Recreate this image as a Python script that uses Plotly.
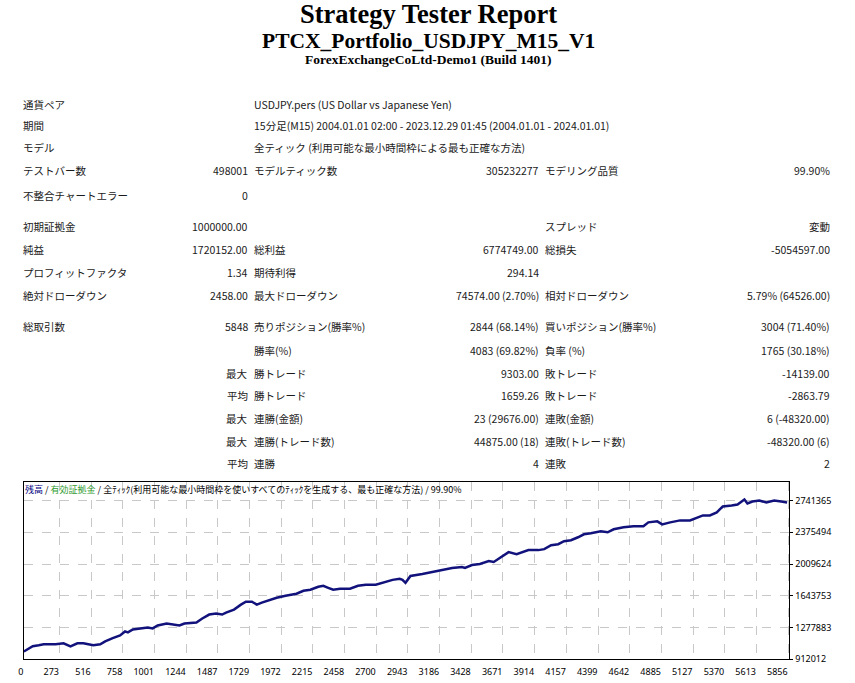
import plotly.graph_objects as go

W, H = 855, 683

# header
title_lines = [
    "Strategy Tester Report",
    "PTCX_Portfolio_USDJPY_M15_V1",
    "ForexExchangeCoLtd-Demo1 (Build 1401)",
]

# first block (label + long value)
info_labels = ["通貨ペア", "期間", "モデル"]
info_values = [
    "USDJPY.pers (US Dollar vs Japanese Yen)",
    "15分足(M15) 2004.01.01 02:00 - 2023.12.29 01:45 (2004.01.01 - 2024.01.01)",
    "全ティック (利用可能な最小時間枠による最も正確な方法)",
]

# stats table, 3 label/value column pairs
label1 = ["テストバー数", "不整合チャートエラー", "初期証拠金", "純益", "プロフィットファクタ",
          "絶対ドローダウン", "総取引数", "", "", "", "", "", ""]
value1 = ["498001", "0", "1000000.00", "1720152.00", "1.34", "2458.00", "5848",
          "", "最大", "平均", "最大", "最大", "平均"]
label2 = ["モデルティック数", "", "", "総利益", "期待利得", "最大ドローダウン",
          "売りポジション(勝率%)", "勝率(%)", "勝トレード", "勝トレード", "連勝(金額)",
          "連勝(トレード数)", "連勝"]
value2 = ["305232277", "", "", "6774749.00", "294.14", "74574.00 (2.70%)",
          "2844 (68.14%)", "4083 (69.82%)", "9303.00", "1659.26", "23 (29676.00)",
          "44875.00 (18)", "4"]
label3 = ["モデリング品質", "", "スプレッド", "総損失", "", "相対ドローダウン",
          "買いポジション(勝率%)", "負率 (%)", "敗トレード", "敗トレード", "連敗(金額)",
          "連敗(トレード数)", "連敗"]
value3 = ["99.90%", "", "変動", "-5054597.00", "", "5.79% (64526.00)",
          "3004 (71.40%)", "1765 (30.18%)", "-14139.00", "-2863.79", "6 (-48320.00)",
          "-48320.00 (6)", "2"]

# balance curve (trade number, balance)
trade_no = [0, 68, 114, 152, 190, 243, 304, 357, 410, 456, 494, 532, 585, 623, 676,
            737, 775, 797, 835, 904, 949, 987, 1025, 1094, 1139, 1192, 1230, 1322,
            1367, 1420, 1473, 1519, 1549, 1610, 1663, 1701, 1747, 1785, 1823, 1891,
            1937, 2005, 2066, 2089, 2142, 2195, 2256, 2294, 2332, 2370, 2423, 2499,
            2560, 2620, 2696, 2772, 2825, 2879, 2901, 2924, 2962, 3053, 3129, 3205,
            3281, 3357, 3380, 3433, 3494, 3562, 3600, 3646, 3714, 3775, 3828, 3866,
            3942, 3987, 4040, 4094, 4139, 4192, 4246, 4291, 4344, 4420, 4473, 4519,
            4595, 4671, 4747, 4785, 4853, 4891, 4952, 5028, 5104, 5157, 5203, 5256,
            5309, 5332, 5355, 5423, 5468, 5521, 5544, 5582, 5635, 5689, 5749, 5803,
            5848]
balance = [1000000, 1060600, 1072100, 1083500, 1083500, 1083500, 1094900, 1060600,
           1094900, 1094900, 1083500, 1072100, 1083500, 1117800, 1152100, 1186400,
           1232100, 1220700, 1255000, 1266400, 1277900, 1266400, 1300700, 1323600,
           1312200, 1300700, 1323600, 1335000, 1380800, 1426500, 1437900, 1426500,
           1449400, 1483700, 1540800, 1575100, 1575100, 1540800, 1563700, 1598000,
           1620900, 1643800, 1655200, 1666600, 1700900, 1712400, 1746700, 1758100,
           1735200, 1712400, 1723800, 1723800, 1758100, 1769500, 1769500, 1803800,
           1826700, 1838100, 1826700, 1792400, 1872400, 1895300, 1918200, 1941000,
           1963900, 1975300, 1963900, 1998200, 2009600, 2043900, 2032500, 2078200,
           2146800, 2124000, 2146800, 2169700, 2169700, 2181100, 2226900, 2238300,
           2272600, 2284000, 2318300, 2352600, 2364100, 2386900, 2375500, 2409800,
           2432700, 2444100, 2444100, 2489800, 2501300, 2467000, 2489800, 2512700,
           2512700, 2546900, 2569900, 2569900, 2604200, 2638500, 2672800, 2684200,
           2695600, 2752800, 2707100, 2729900, 2741400, 2718500, 2741400, 2729900,
           2718500]

x_ticks = [0, 273, 516, 758, 1001, 1244, 1487, 1729, 1972, 2215, 2458, 2700, 2943,
           3186, 3428, 3671, 3914, 4157, 4399, 4642, 4885, 5127, 5370, 5613, 5856]
y_ticks = [912012, 1277883, 1643753, 2009624, 2375494, 2741365]

chart_caption = ("<span style='color:#000080'>残高</span> / "
                 "<span style='color:#2e9a2e'>有効証拠金</span> / "
                 "全ﾃｨｯｸ(利用可能な最小時間枠を使いすべてのﾃｨｯｸを生成する、最も正確な方法) / 99.90%")

# pixel positions of the text rows
info_y = [105, 127, 149]
row_y = [172, 197, 229, 252, 275, 298, 329, 354, 377, 399, 422, 445, 468]

TXT = "#1a1a1a"
FONT = "Noto Sans CJK JP"


def px(x):
    return x / W


def py(y):
    return 1 - y / H


fig = go.Figure()
fig.add_trace(go.Scatter(
    x=trade_no, y=balance, mode="lines",
    line=dict(color="#12127c", width=2.5),
    hoverinfo="skip", showlegend=False,
))

ann = []
title_sizes = [26.5, 21.5, 13.5]
title_y = [14, 41, 60]
for t, s, y in zip(title_lines, title_sizes, title_y):
    ann.append(dict(x=px(W / 2 - 2), y=py(y), text="<b>%s</b>" % t, showarrow=False,
                    xanchor="center", yanchor="middle",
                    font=dict(family="Liberation Serif", size=s, color="#000")))

for lab, val, y in zip(info_labels, info_values, info_y):
    ann.append(dict(x=px(16), y=py(y), text=lab, xanchor="left", align="left"))
    ann.append(dict(x=px(249), y=py(y), text=val, xanchor="left", align="left"))

columns = [(label1, 16, "left"), (value1, 245, "right"),
           (label2, 249, "left"), (value2, 538, "right"),
           (label3, 542, "left"), (value3, 831, "right")]
for texts, x, anchor in columns:
    for t, y in zip(texts, row_y):
        if t:
            ann.append(dict(x=px(x), y=py(y), text=t, xanchor=anchor, align=anchor))

for a in ann:
    a.setdefault("showarrow", False)
    a.setdefault("yanchor", "middle")
    a.setdefault("font", dict(family=FONT, size=10.5, color=TXT))
    a["xref"] = "paper"
    a["yref"] = "paper"
    a["borderpad"] = 0

ann.append(dict(x=px(18), y=py(494), xref="paper", yref="paper", text=chart_caption,
                showarrow=False, xanchor="left", yanchor="middle", borderpad=0,
                font=dict(family=FONT, size=9, color="#000")))

fig.update_layout(
    width=W, height=H,
    margin=dict(l=0, r=0, t=0, b=0),
    paper_bgcolor="white", plot_bgcolor="white",
    hovermode=False,
    annotations=ann,
    xaxis=dict(
        domain=[px(18), px(789)], range=[0, 5866],
        tickvals=x_ticks, ticks="", ticklabelposition="outside left",
        ticklabelstandoff=4,
        showgrid=True, gridcolor="#c8c8c8", griddash="dash", gridwidth=1,
        showline=True, linecolor="#000", linewidth=1, mirror=True, zeroline=False,
        tickfont=dict(family="Noto Sans", size=9, color="#000"),
    ),
    yaxis=dict(
        domain=[py(665), py(486)], range=[912012, 2958600],
        side="right", tickvals=y_ticks, tickformat="d",
        ticks="outside", ticklen=3, tickcolor="#000",
        showgrid=True, gridcolor="#c8c8c8", griddash="dash", gridwidth=1,
        showline=True, linecolor="#000", linewidth=1, mirror=True, zeroline=False,
        tickfont=dict(family="Noto Sans", size=9, color="#000"),
    ),
)

# page body margin off, so the figure sits at the window corner
fig.write_html("out.html", config={"displayModeBar": False},
               post_script="document.body.style.margin='0';")
